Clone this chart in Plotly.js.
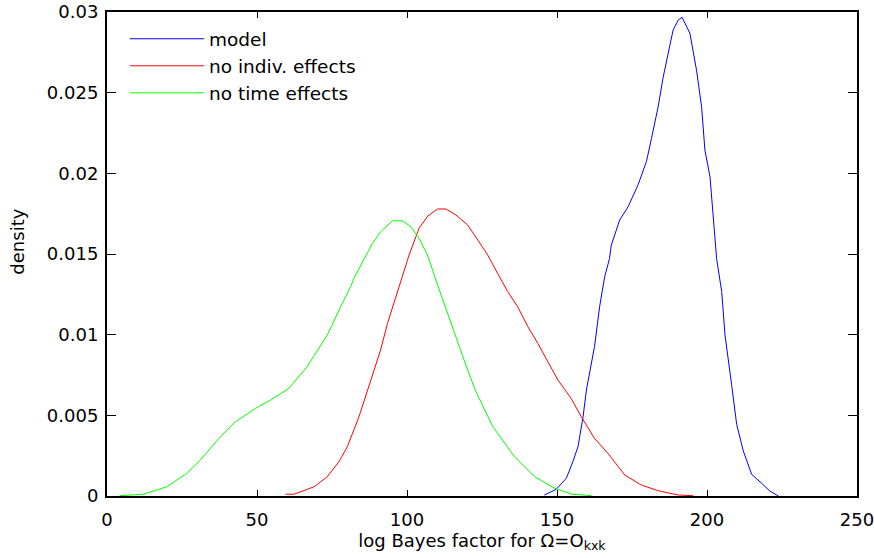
<!DOCTYPE html>
<html>
<head>
<meta charset="utf-8">
<script src="https://cdn.plot.ly/plotly-3.0.1.min.js"></script>
<style>html,body{margin:0;padding:0;background:#fff;}#chart{width:874px;height:558px;}</style>
</head>
<body>
<div id="chart"></div>
<script>
// model
const modelX = [145.8,149.7,153.1,155.3,157.0,158.7,159.8,160.9,162.5,164.2,165.9,167.5,168.1,170.9,173.7,177.0,179.8,181.5,183.7,185.4,187.1,188.7,190.4,191.7,194.3,196.5,198.2,199.3,201.0,202.1,203.2,204.9,206.0,208.2,209.9,212.1,214.9,218.2,221.0,223.8];
const modelY = [0.00006,0.00041,0.00110,0.00213,0.00306,0.00492,0.00657,0.00761,0.00926,0.01173,0.01359,0.01472,0.01555,0.01711,0.01793,0.01928,0.02072,0.02217,0.02411,0.02597,0.02742,0.02888,0.02950,0.02967,0.02868,0.02640,0.02412,0.02144,0.01978,0.01730,0.01472,0.01267,0.00998,0.00690,0.00443,0.00279,0.00134,0.00079,0.00030,0.00000];
// no indiv. effects
const indivX = [59.5,62.3,69.0,73.4,77.3,80.1,84.0,87.9,91.2,93.5,95.7,98.5,100.7,104.0,106.9,110.2,113.0,116.3,120.2,123.6,126.9,130.2,133.6,136.9,140.3,143.6,146.9,150.3,154.7,158.1,162.5,167.0,172.6,178.1,183.7,190.4,195.4];
const indivY = [0.00011,0.00011,0.00057,0.00119,0.00212,0.00305,0.00492,0.00719,0.00905,0.01070,0.01204,0.01359,0.01494,0.01659,0.01735,0.01779,0.01779,0.01742,0.01680,0.01587,0.01494,0.01380,0.01266,0.01173,0.01049,0.00946,0.00832,0.00719,0.00605,0.00491,0.00357,0.00264,0.00130,0.00068,0.00033,0.00006,0.00002];
// no time effects
const timeX = [4.3,12.1,19.9,26.6,31.1,37.8,42.8,49.5,54.5,60.6,66.7,73.4,77.9,81.2,82.3,88.5,91.2,95.2,98.5,101.3,104.0,106.8,110.2,113.5,116.3,120.2,123.0,128.6,135.8,142.5,149.2,154.7,161.4];
const timeY = [0.00002,0.00011,0.00057,0.00140,0.00223,0.00367,0.00460,0.00543,0.00595,0.00667,0.00802,0.00997,0.01173,0.01297,0.01349,0.01566,0.01638,0.01706,0.01706,0.01669,0.01597,0.01494,0.01308,0.01132,0.00977,0.00781,0.00646,0.00430,0.00244,0.00120,0.00048,0.00012,0.00002];

const xTicks = [0,50,100,150,200,250];
const yTicks = [0,0.005,0.01,0.015,0.02,0.025,0.03];
const yTickText = ['0','0.005','0.01','0.015','0.02','0.025','0.03'];

const names = ['model','no indiv. effects','no time effects'];
const colors = ['#0000ff','#ff0000','#00ff00'];
const xTitle = 'log Bayes factor for \u03A9=O<sub>kxk</sub>';
const yTitle = 'density';

const FONT = 'DejaVu Sans, Liberation Sans, Arial, sans-serif';

const traces = [
  {x: modelX, y: modelY, name: names[0], mode: 'lines', line: {color: colors[0], width: 1}},
  {x: indivX, y: indivY, name: names[1], mode: 'lines', line: {color: colors[1], width: 1}},
  {x: timeX, y: timeY, name: names[2], mode: 'lines', line: {color: colors[2], width: 1}}
];

const layout = {
  width: 874, height: 558,
  margin: {l: 107, r: 17, t: 12, b: 62},
  paper_bgcolor: '#fff', plot_bgcolor: '#fff',
  font: {family: FONT, color: '#000', size: 18},
  showlegend: true,
  legend: {x: 0.024, y: 0.983, xanchor: 'left', yanchor: 'top', bgcolor: 'rgba(0,0,0,0)',
           font: {family: FONT, size: 18.5, color: '#000'}, itemwidth: 74, tracegroupgap: 0},
  xaxis: {
    range: [0, 250], tickmode: 'array', tickvals: xTicks, ticktext: xTicks.map(String),
    ticks: 'inside', ticklen: 6, tickwidth: 1, tickcolor: '#000', ticklabelstandoff: 6,
    ticklabeloverflow: 'allow',
    showline: true, linecolor: '#000', linewidth: 2, mirror: 'ticks',
    showgrid: false, zeroline: false,
    tickfont: {family: FONT, size: 18, color: '#000'},
    title: {text: xTitle, font: {family: FONT, size: 18, color: '#000'}, standoff: 4}
  },
  yaxis: {
    range: [0, 0.03], tickmode: 'array', tickvals: yTicks, ticktext: yTickText,
    ticks: 'inside', ticklen: 9, tickwidth: 1, tickcolor: '#000', ticklabelstandoff: 3,
    showline: true, linecolor: '#000', linewidth: 2, mirror: 'ticks',
    showgrid: false, zeroline: false,
    tickfont: {family: FONT, size: 18, color: '#000'}
  },
  annotations: [{
    text: yTitle, xref: 'paper', yref: 'paper', x: -0.119, y: 0.525,
    xanchor: 'center', yanchor: 'middle', textangle: -90, showarrow: false,
    font: {family: FONT, size: 18, color: '#000'}
  }]
};

Plotly.newPlot('chart', traces, layout, {displayModeBar: false, staticPlot: true});
</script>
</body>
</html>
